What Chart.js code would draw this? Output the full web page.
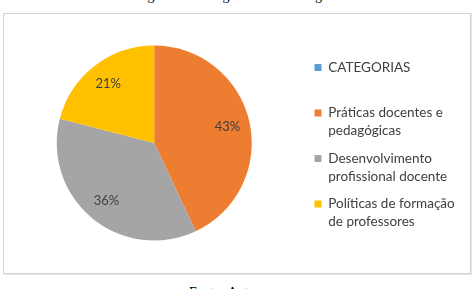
<!DOCTYPE html>
<html>
<head>
<meta charset="utf-8">
<script src="https://cdn.jsdelivr.net/npm/chart.js@4.4.1/dist/chart.umd.min.js"></script>
<style>
  html, body { margin: 0; padding: 0; background: #fff; }
  body { width: 475px; height: 289px; position: relative; overflow: hidden; }
  #frame { position: absolute; left: 3px; top: 13px; width: 466px; height: 259px;
           border: 1px solid #d2d2d2; box-shadow: 1px 1px 0 #e4e4e4; }
  #title { position: absolute; left: 0; top: -11px; width: 475px; text-align: center;
           font-family: "Liberation Serif", serif; font-size: 14px; line-height: 14px; color: #000; }
  #source { position: absolute; left: 189px; top: 286px; white-space: nowrap;
            font-family: "Liberation Serif", serif; font-size: 14px; line-height: 14px; color: #000; }
  #wrap { position: absolute; left: 0; top: 0; width: 475px; height: 289px; }
</style>
</head>
<body>
<div id="title">Figura 3 – Categorias de abordagem</div>
<div id="frame"></div>
<div id="source">Fonte: Autores</div>
<div id="wrap"><canvas id="c" width="475" height="289"></canvas></div>
<script>
// ---- data ----
const categories = [
  ['CATEGORIAS', ''],
  ['Práticas docentes e', 'pedagógicas'],
  ['Desenvolvimento', 'profissional docente'],
  ['Políticas de formação', 'de professores']
];
const values = [0, 43, 36, 21];
const colors = ['#5B9BD5', '#ED7D31', '#A5A5A5', '#FFC000'];

// ---- layout helpers ----
const FONT = 'Lato';
const LEG_SIZE = 13.5;
const LEG_PAD = 9.5;
const BOX = 7;
const mctx = document.createElement('canvas').getContext('2d');
mctx.font = LEG_SIZE + 'px ' + FONT;
let maxText = 0;
categories.forEach(lines => lines.forEach(t => { maxText = Math.max(maxText, mctx.measureText(t).width); }));
const legendWidth = LEG_PAD + BOX + LEG_SIZE / 2 + maxText + LEG_PAD;
const legendLeft = 315 - LEG_PAD;
const padRight = 475 - legendLeft - legendWidth;
const centerX = 154.5;
const padLeft = 2 * centerX - legendLeft;

const total = values.reduce((a, b) => a + b, 0);

const labelPlugin = {
  id: 'pctLabels',
  afterDatasetsDraw(chart) {
    const ctx = chart.ctx;
    const meta = chart.getDatasetMeta(0);
    ctx.save();
    ctx.font = '13px ' + FONT;
    ctx.fillStyle = '#404040';
    ctx.textAlign = 'center';
    ctx.textBaseline = 'middle';
    meta.data.forEach((arc, i) => {
      const v = values[i];
      if (!v) return;
      const p = arc.getProps(['x', 'y', 'startAngle', 'endAngle', 'outerRadius'], true);
      const mid = (p.startAngle + p.endAngle) / 2;
      const r = p.outerRadius * 0.77;
      ctx.fillText(Math.round(v / total * 100) + '%', p.x + Math.cos(mid) * r, p.y + Math.sin(mid) * r);
    });
    ctx.restore();
  }
};

new Chart(document.getElementById('c'), {
  type: 'pie',
  data: {
    labels: categories,
    datasets: [{
      data: values,
      backgroundColor: colors,
      borderWidth: 0,
      radius: 97.5
    }]
  },
  options: {
    responsive: false,
    animation: false,
    layout: { padding: { left: padLeft, right: padRight, top: 14, bottom: 17 } },
    plugins: {
      tooltip: { enabled: false },
      legend: {
        position: 'right',
        align: 'center',
        title: { display: true, text: ' ', font: { size: 1, lineHeight: 1 }, padding: { top: 7, bottom: 0 } },
        labels: {
          boxWidth: BOX,
          boxHeight: BOX,
          padding: LEG_PAD,
          color: '#404040',
          font: { family: FONT, size: LEG_SIZE, lineHeight: 18 / LEG_SIZE }
        }
      }
    }
  },
  plugins: [labelPlugin]
});
</script>
</body>
</html>
